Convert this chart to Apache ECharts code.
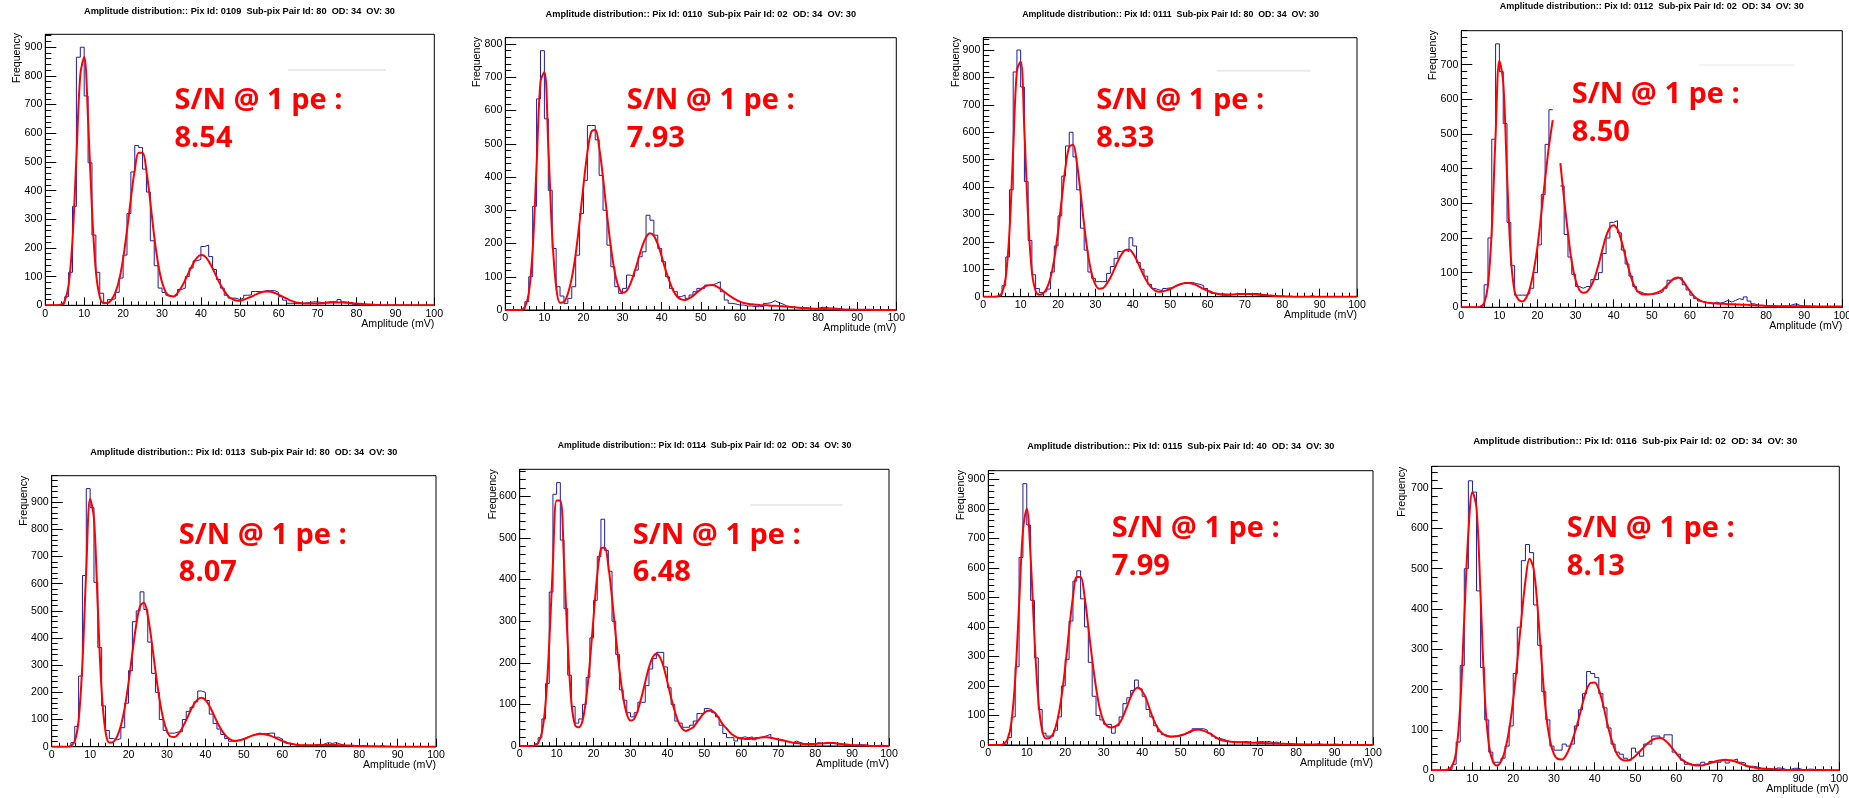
<!DOCTYPE html>
<html>
<head>
<meta charset="utf-8">
<script src="https://cdn.jsdelivr.net/npm/echarts@6/dist/echarts.min.js"></script>
<style>
  html, body { margin: 0; padding: 0; background: #fff; }
  #chart { width: 1849px; height: 798px; }
</style>
</head>
<body>
<div id="chart"></div>
<script>
// panel labels
const pixIds = ['0109', '0110', '0111', '0112', '0113', '0114', '0115', '0116'];
const pairIds = ['80', '02', '80', '02', '80', '02', '40', '02'];
const snValues = ['8.54', '7.93', '8.33', '8.50', '8.07', '6.48', '7.99', '8.13'];
const yMaxes = [945, 819, 945, 798, 997.5, 665, 929, 754];

// histogram counts, one bin per mV (bin i = [i, i+1)), null = not drawn
const histP1 = [
  0,0,0,0,5,30,115,345,865,900, 730,497,245,115,42,8,20,22,45,95,
  175,320,465,557,550,475,395,225,138,60, 45,35,30,35,55,60,100,130,155,160,
  205,210,170,125,90,60,35,25,25,20, 25,35,36,48,48,48,51,51,51,45,
  30,18,7,7,6,6,8,10,12,12, 10,10,12,12,12,20,12,10,10,3,
  2,1,1,0,1,0,0,1,0,2, 0,0,1,0,0,0,0,0,0,0
];
const histP2 = [
  0,0,0,0,2,25,100,312,635,780, 575,360,185,70,42,20,35,70,165,290,
  390,555,555,512,405,300,195,130,70,50, 65,105,100,120,160,175,285,270,225,185,
  145,100,65,55,40,45,35,45,55,65, 65,75,75,80,85,55,30,20,18,15,
  15,12,12,10,10,10,20,22,28,22, 18,12,10,8,7,6,5,5,4,4,
  8,8,6,6,5,3,2,2,2,1, 1,0,1,1,0,0,0,0,0,0
];
const histP3 = [
  0,0,0,0,5,40,145,390,820,900, 765,420,205,80,30,15,20,28,90,185,
  295,440,550,600,510,390,250,170,90,67, 55,55,55,85,110,140,165,170,165,215,
  185,125,100,75,45,30,25,22,30,32, 35,40,45,50,52,52,48,45,40,30,
  20,12,8,6,5,6,8,10,8,12, 10,10,12,10,8,5,3,3,2,2,
  1,1,0,0,0,0,0,4,0,0, 0,0,0,0,0,0,0,0,0,0
];
const histP4 = [
  0,0,0,0,0,5,65,200,485,760, 680,530,245,120,35,35,35,40,55,100,
  180,325,470,570,null,null,350,210,145,95, 60,55,60,60,80,80,100,155,200,245,
  250,215,165,125,90,60,45,40,38,38, 38,40,45,55,78,80,85,85,65,50,
  35,25,18,15,12,10,15,12,15,20, 15,20,25,22,30,18,10,6,5,4,
  5,4,3,3,3,3,8,10,5,4, 4,3,3,2,2,2,1,1,1,1
];
const histP5 = [
  0,0,0,0,0,15,75,260,630,950, 880,605,365,150,60,30,25,30,70,160,
  280,460,500,570,505,385,270,200,100,60, 50,50,55,55,100,130,145,165,205,200,
  170,120,85,65,45,30,20,20,25,30, 35,40,45,50,48,48,50,50,35,28,
  20,12,8,5,5,6,5,5,5,5, 10,15,12,15,10,6,4,3,3,3,
  2,2,1,1,1,4,1,0,0,0, 0,0,0,0,0,0,0,0,0,0
];
const histP6 = [
  0,0,0,0,5,20,65,150,370,605, 633,495,330,170,95,55,65,100,165,260,
  350,455,545,470,420,300,220,135,110,80, 70,80,105,105,145,185,210,225,225,190,
  140,100,60,55,45,45,50,60,78,78, 90,88,80,70,50,30,20,20,12,20,
  22,20,22,15,20,22,25,28,18,15, 15,12,10,8,12,8,6,5,5,5,
  8,6,6,6,6,5,5,3,2,2, 2,3,3,2,1,1,1,2,1,0
];
const histP7 = [
  0,0,0,0,3,25,95,265,635,885, 745,490,295,120,40,30,30,50,95,200,
  290,420,555,590,495,400,280,165,100,85, 70,70,40,65,95,140,160,185,220,190,
  165,120,95,65,45,35,30,30,30,30, 35,40,45,55,55,55,50,40,30,22,
  20,15,12,10,10,10,12,10,8,10, 12,10,12,8,10,5,5,3,3,3,
  3,2,2,2,3,4,2,2,1,3, 2,1,1,1,0,0,0,0,0,0
];
const histP8 = [
  0,0,0,0,3,15,70,260,500,718, 690,445,255,125,45,20,20,30,60,110,
  240,355,520,560,540,410,310,195,125,60, 50,50,65,60,65,110,150,190,245,240,
  230,190,155,105,65,45,40,30,25,55, 45,35,65,65,85,85,80,88,88,45,
  40,25,15,12,15,15,20,15,22,20, 20,25,18,25,28,20,18,10,10,8,
  5,5,4,3,6,5,2,2,5,5, 2,2,3,2,2,1,1,0,0,0
];

// fitted curve sampled at every mV (x = 0..100), null = gap
const fitP1 = [
  0,0,0,0,2,15,71,230,517,804, 866,645,333,119,30,8,8,19,44,89,
  162,261,372,472,532,532,468,360,240,145, 80,45,32,31,43,63,89,118,145,166,
  175,171,154,129,100,73,50,32,22,17, 16,19,25,30,37,43,47,48,47,43,
  37,30,24,17,12,9,7,6,6,6, 6,7,8,9,10,10,10,9,8,7,
  6,5,4,3,2,1,1,0,0,0, 0,0,0,0,0,0,0,0,0,0,0
];
const fitP2 = [
  0,0,0,0,0,9,50,181,434,687, 716,492,223,70,22,24,49,96,168,266,
  376,474,536,542,490,397,288,189,114,69, 52,57,79,113,152,191,219,231,223,198,
  161,120,86,57,40,32,30,35,42,53, 62,70,74,75,71,64,55,46,38,31,
  25,21,19,17,16,15,14,14,13,13, 12,11,10,9,8,7,6,6,5,4,
  4,3,3,2,2,2,1,1,1,1, 1,1,1,1,0,0,0,0,0,0,0
];
const fitP3 = [
  0,0,0,0,2,14,70,236,537,825, 858,604,287,92,21,7,12,31,70,138,
  237,358,473,547,554,492,383,260,156,84, 44,29,31,47,69,99,129,155,170,172,
  159,135,105,75,51,33,22,18,19,23, 28,35,42,47,50,50,47,42,35,28,
  22,16,13,10,9,8,8,8,9,10, 10,10,9,8,7,6,5,4,3,2,
  2,1,1,0,0,0,0,0,0,0, 0,0,0,0,0,0,0,0,0,0,0
];
const fitP4 = [
  0,0,0,0,0,2,12,64,224,498, 711,650,382,145,45,22,17,27,55,105,
  175,271,370,464,540,null,416,310,214,130, 78,50,42,45,60,85,122,165,205,230,
  237,225,193,150,108,72,50,40,37,37, 38,41,45,52,63,75,84,86,78,63,
  47,33,24,18,15,13,12,11,10,10, 9,9,8,8,7,7,6,6,5,5,
  4,4,4,3,3,3,3,3,3,3, 2,2,2,2,2,2,2,2,2,2,2
];
const fitP5 = [
  0,0,0,0,0,3,20,96,309,654, 913,840,510,204,56,15,17,37,77,143,
  236,346,449,518,530,482,389,279,180,104, 58,37,36,48,70,98,129,156,174,180,
  172,151,123,92,66,45,31,23,22,24, 28,34,40,44,47,47,44,40,34,27,
  21,15,12,9,7,5,5,5,5,6, 6,6,6,6,6,5,5,4,4,3,
  3,3,2,2,2,1,1,1,1,0, 0,0,0,0,0,0,0,0,0,0,0
];
const fitP6 = [
  0,0,0,0,1,7,32,102,246,441, 590,590,441,247,105,50,45,60,114,202,
  310,411,474,477,433,356,266,184,118,77, 61,65,86,118,154,189,213,222,213,189,
  154,116,83,57,42,36,40,45,57,69, 80,85,85,78,66,52,42,32,25,20,
  18,17,17,18,19,20,21,21,20,18, 16,14,12,10,8,7,6,5,5,5,
  5,6,6,7,7,7,6,5,4,3, 2,2,1,1,1,0,0,0,0,0,0
];
const fitP7 = [
  0,0,0,0,3,19,76,224,474,725, 800,636,365,153,50,22,24,42,86,160,
  265,388,501,569,569,505,400,290,195,122, 80,63,59,63,72,96,128,162,187,195,
  182,158,120,84,58,42,33,29,28,30, 33,37,43,49,52,52,48,43,36,27,
  20,15,13,11,10,9,9,8,8,8, 7,7,6,6,5,5,4,4,3,3,
  2,2,2,2,1,1,1,1,1,1, 1,1,0,0,0,0,0,0,0,0,0
];
const fitP8 = [
  0,0,0,0,2,10,45,160,380,590, 690,650,430,190,65,22,12,22,50,100,
  175,270,375,470,525,500,400,265,145,75, 40,28,27,38,60,90,125,165,200,217,
  218,200,165,120,80,50,32,25,24,28, 36,46,57,67,75,79,80,76,67,55,
  42,30,22,17,14,12,12,14,17,20, 23,25,26,25,23,20,16,12,9,7,
  5,4,3,3,2,2,1,1,1,1, 1,1,1,1,0,0,0,0,0,0,0
];

const hists = [histP1, histP2, histP3, histP4, histP5, histP6, histP7, histP8];
const fits = [fitP1, fitP2, fitP3, fitP4, fitP5, fitP6, fitP7, fitP8];

// where each plot sits on the page (px)
const layout = [
  {left: 45.3, top: 34.3, width: 389, height: 271, title: [239.5, 11.7, 9.2], freq: [16.7, 33], sn: [174.5, 101, 139], rule: [288, 386, 70]},
  {left: 505.3, top: 37.7, width: 391, height: 272.3, title: [700.8, 14.7, 9.2], freq: [477.3, 37], sn: [626.8, 100.5, 139]},
  {left: 983.3, top: 37.7, width: 373.7, height: 259, title: [1170.5, 15, 8.8], freq: [956, 37], sn: [1096.2, 101, 139], rule: [1216.7, 1310.7, 70.7]},
  {left: 1461.3, top: 30.7, width: 381, height: 276.6, title: [1651.7, 6.7, 9.0], freq: [1433.3, 30], sn: [1571.8, 95, 132.7], rule: [1699, 1795, 65]},
  {left: 51.7, top: 475.7, width: 384.3, height: 271, title: [243.8, 452.7, 9.1], freq: [24, 475.7], sn: [178.8, 535.3, 573]},
  {left: 519.7, top: 469.3, width: 369.3, height: 276.7, title: [704.5, 445.7, 8.7], freq: [493.3, 469.3], sn: [632.8, 535.7, 572.7], rule: [750.7, 842.7, 505]},
  {left: 988.3, top: 470.7, width: 384.7, height: 274.3, title: [1180.8, 446.7, 9.1], freq: [960.7, 470], sn: [1111.8, 528.7, 566.5]},
  {left: 1431.7, top: 466.3, width: 407.6, height: 304, title: [1635.2, 441, 9.6], freq: [1402, 466.7], sn: [1566.8, 528.3, 566.5]}
];

const FONT = "'Liberation Sans', Arial, sans-serif";

function stepPoints(bins) {
  const pts = [];
  bins.forEach((v, i) => {
    if (v == null) { pts.push([i, '-']); return; }
    pts.push([i, v], [i + 1, v]);
  });
  return pts;
}

let grids = [], xAxes = [], yAxes = [], series = [], graphics = [];

layout.forEach((p, i) => {
  grids.push({
    left: p.left, top: p.top, width: p.width, height: p.height,
    show: true, borderColor: '#000', borderWidth: 1, backgroundColor: '#fff',
    outerBoundsMode: 'none'
  });
  xAxes.push({
    type: 'value', gridIndex: i, min: 0, max: 100, interval: 10,
    axisLine: {show: true, lineStyle: {color: '#000', width: 1}},
    axisTick: {show: true, inside: true, length: 8, lineStyle: {color: '#000'}},
    minorTick: {show: true, splitNumber: 5, length: 4, lineStyle: {color: '#000'}},
    splitLine: {show: false},
    axisLabel: {color: '#000', fontSize: 10.6, fontFamily: FONT, margin: 3}
  });
  // major ticks + labels
  yAxes.push({
    type: 'value', gridIndex: i, min: 0, max: yMaxes[i], interval: 100, position: 'left',
    axisLine: {show: true, lineStyle: {color: '#000', width: 1}},
    axisTick: {show: true, inside: true, length: 11, lineStyle: {color: '#000'}},
    splitLine: {show: false},
    axisLabel: {color: '#000', fontSize: 10.6, fontFamily: FONT, margin: 3, showMaxLabel: false}
  });
  // small ticks every 20
  yAxes.push({
    type: 'value', gridIndex: i, min: 0, max: yMaxes[i], interval: 20, position: 'left', offset: 0,
    axisLine: {show: false},
    axisTick: {show: true, inside: true, length: 6, lineStyle: {color: '#000'}},
    splitLine: {show: false},
    axisLabel: {show: false}
  });

  series.push({
    type: 'line', xAxisIndex: i, yAxisIndex: 2 * i,
    data: stepPoints(hists[i]),
    symbol: 'none', silent: true, animation: false,
    lineStyle: {color: '#1c1ca8', width: 1}, z: 2
  });
  series.push({
    type: 'line', xAxisIndex: i, yAxisIndex: 2 * i,
    data: fits[i].map((v, x) => [x, v == null ? '-' : v]),
    smooth: 0.35, symbol: 'none', silent: true, animation: false,
    lineStyle: {color: '#ff0000', width: 2}, z: 3
  });

  graphics.push({
    type: 'text', x: p.title[0], y: p.title[1], silent: true,
    style: {
      text: 'Amplitude distribution:: Pix Id: ' + pixIds[i] + '  Sub-pix Pair Id: ' + pairIds[i] + '  OD: 34  OV: 30',
      fill: '#000', fontSize: p.title[2], fontWeight: 'bold', fontFamily: FONT,
      align: 'center', verticalAlign: 'middle'
    }
  });
  graphics.push({
    type: 'text', x: p.freq[0], y: p.freq[1], rotation: Math.PI / 2, silent: true,
    style: {text: 'Frequency', fill: '#000', fontSize: 10.6, fontFamily: FONT, align: 'right', verticalAlign: 'middle'}
  });
  graphics.push({
    type: 'text', x: p.left + p.width, y: p.top + p.height + 18.5, silent: true,
    style: {text: 'Amplitude (mV)', fill: '#000', fontSize: 10.6, fontFamily: FONT, align: 'right', verticalAlign: 'middle'}
  });
  graphics.push({
    type: 'text', x: p.sn[0], y: p.sn[1], silent: true, z: 10,
    style: {text: 'S/N @ 1 pe :', fill: '#ff0000', fontSize: 29, fontWeight: 'bold', fontFamily: "'Open Sans', 'Noto Sans', sans-serif", align: 'left', verticalAlign: 'middle'}
  });
  graphics.push({
    type: 'text', x: p.sn[0], y: p.sn[2], silent: true, z: 10,
    style: {text: snValues[i], fill: '#ff0000', fontSize: 29, fontWeight: 'bold', fontFamily: "'Open Sans', 'Noto Sans', sans-serif", align: 'left', verticalAlign: 'middle'}
  });
  if (p.rule) {
    graphics.push({
      type: 'line', silent: true, z: 1,
      shape: {x1: p.rule[0], y1: p.rule[2], x2: p.rule[1], y2: p.rule[2]},
      style: {stroke: i === 3 ? '#f4f4f4' : '#ebebeb', lineWidth: 2}
    });
  }
});

const chart = echarts.init(document.getElementById('chart'), null, {renderer: 'canvas'});
chart.setOption({
  backgroundColor: '#fff',
  animation: false,
  grid: grids,
  xAxis: xAxes,
  yAxis: yAxes,
  series: series,
  graphic: {elements: graphics}
});
</script>
</body>
</html>
